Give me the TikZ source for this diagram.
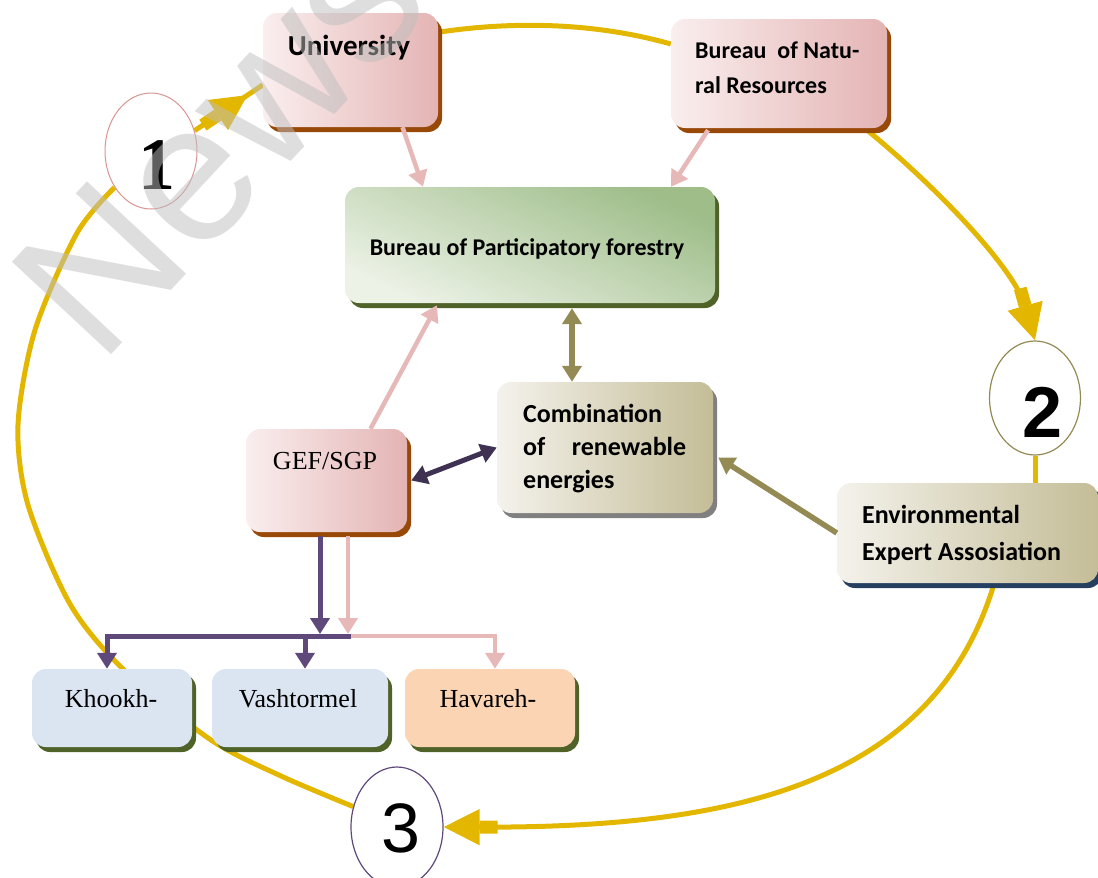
\documentclass[tikz,border=0pt]{standalone}
\usepackage{fontspec}
\newfontfamily\carl{Carlito}
\newfontfamily\tnr{Liberation Serif}
\newfontfamily\ars{Liberation Sans}
\usetikzlibrary{arrows.meta,shadows,decorations.markings,calc,shapes.geometric}
\pgfdeclarelayer{bg}
\pgfsetlayers{bg,main}
\definecolor{ylw}{RGB}{227,183,0}
\definecolor{pinkL}{RGB}{250,238,238}
\definecolor{pinkR}{RGB}{228,180,180}
\definecolor{brn}{RGB}{152,72,7}
\definecolor{grnD}{RGB}{158,189,137}
\definecolor{grnL}{RGB}{236,242,230}
\definecolor{olv}{RGB}{79,98,40}
\definecolor{tanL}{RGB}{244,242,236}
\definecolor{tanR}{RGB}{196,189,151}
\definecolor{gry}{RGB}{128,128,128}
\definecolor{navy}{RGB}{36,63,96}
\definecolor{lblue}{RGB}{219,229,241}
\definecolor{peach}{RGB}{251,212,180}
\definecolor{arPink}{RGB}{230,185,184}
\definecolor{arOlive}{RGB}{148,138,84}
\definecolor{purp}{RGB}{95,73,122}
\definecolor{dpurp}{RGB}{63,49,82}
\definecolor{cA}{RGB}{217,149,148}
\definecolor{wm}{RGB}{190,190,190}
\tikzset{
  Tsm/.tip={Triangle[length=16pt 0 0, width=19pt 0 0]},
  Tbg/.tip={Rectangle[length=18pt 0 0, width=13pt 0 0] Triangle[length=36pt 0 0, width=35pt 0 0]},
  bx/.style={rounded corners=14pt, inner sep=0pt, draw=none},
  shd/.style={drop shadow={shadow xshift=4pt, shadow yshift=-5pt, fill=#1, opacity=1}},
  pinkbox/.style={bx, shd=brn, left color=pinkL, right color=pinkR},
  greenbox/.style={bx, shd=olv, top color=grnD, bottom color=grnL, shading angle=-25},
  tanbox/.style={bx, shd=#1, left color=tanL, right color=tanR},
  bluebox/.style={bx, shd=olv, fill=lblue},
  peachbox/.style={bx, shd=olv, fill=peach},
  cb/.style={inner sep=0pt, font=\carl\bfseries\fontsize{#1}{#1}\selectfont},
  tr/.style={inner sep=0pt, font=\tnr\fontsize{26}{26}\selectfont, anchor=base},
  yl/.style={draw=ylw, line width=5pt},
  pk/.style={draw=arPink, line width=4.5pt},
  ol/.style={draw=arOlive, line width=5.5pt},
  pu/.style={draw=purp, line width=5pt},
  dp/.style={draw=dpurp, line width=5pt},
  circ/.style={ellipse, fill=white, inner sep=0pt, line width=1.2pt}
}
\begin{document}
\begin{tikzpicture}[x=1pt,y=-1pt]
\useasboundingbox (0,0) rectangle (1098,878);
% boxes
\node[pinkbox, minimum width=175pt, minimum height=114pt] (univ) at (350.5,70) {};
\node[pinkbox, minimum width=216pt, minimum height=109pt] (bnr) at (779,73.5) {};
\node[greenbox, minimum width=370pt, minimum height=116pt] (bpf) at (530,245) {};
\node[tanbox=gry, minimum width=216pt, minimum height=131pt] (comb) at (605,447.5) {};
\node[pinkbox, minimum width=161pt, minimum height=103pt] (gef) at (326.5,480.5) {};
\node[tanbox=navy, minimum width=261pt, minimum height=100pt] (env) at (967.5,533) {};
\node[bluebox, minimum width=160pt, minimum height=78pt] (kh) at (112,708) {};
\node[bluebox, minimum width=176pt, minimum height=78pt] (va) at (300,708) {};
\node[peachbox, minimum width=170pt, minimum height=78pt] (ha) at (490,708) {};
% circles
\node[circ, draw=cA, line width=1pt, minimum width=92pt, minimum height=116pt] (c1) at (151,151) {};
\node[circ, draw=arOlive, minimum width=91pt, minimum height=114pt] (c2) at (1035,398) {};
\node[circ, draw=purp, minimum width=92pt, minimum height=120pt] (c3) at (397,827) {};
\node[inner sep=0pt, text=black, font=\tnr\bfseries\fontsize{74}{74}\selectfont] (n1) at (157,165) {1};
\node[inner sep=0pt, font=\ars\bfseries\fontsize{72}{72}\selectfont] (n2) at (1043,412) {2};
\node[inner sep=0pt, font=\ars\fontsize{70}{70}\selectfont] (n3) at (401,828) {3};
% texts
\node[cb=29, anchor=base] (tU) at (349,55) {University};
\node[cb=24, anchor=base west] (tB1) at (695,58) {Bureau\ \ of Natu-};
\node[cb=24, anchor=base west] (tB2) at (695,93) {ral Resources};
\node[cb=24, anchor=base] (tP) at (527,255) {Bureau of Participatory forestry};
\node[cb=26, anchor=base west] (tC1) at (523,422) {Combination};
\node[cb=26, anchor=base west] (tC2) at (523,455) {\makebox[163pt][s]{of renewable}};
\node[cb=26, anchor=base west] (tC3) at (523,488) {energies};
\node[cb=26, anchor=base west] (tE1) at (862,523) {Environmental};
\node[cb=26, anchor=base west] (tE2) at (862,560) {Expert Assosiation};
\node[tr] (tG) at (325,469) {GEF/SGP};
\node[tr] (tK) at (111,707) {Khookh-};
\node[tr] (tV) at (298,707) {Vashtormel};
\node[tr] (tH) at (488,707) {Havareh-};
% yellow cycle
\begin{pgfonlayer}{bg}
\draw[yl, postaction={decorate}, decoration={markings, mark=at position 0.78 with {\arrow{Tbg}}}]
  (c1.25) -- ($(univ.north west)!0.63!(univ.south west)$);
\draw[yl] ($(univ.north east)!0.17!(univ.south east)$) .. controls (520,20) and (600,24) .. ($(bnr.north west)!0.23!(bnr.south west)$);
\draw[yl, -{Tbg}] ($(bnr.south east)+(-20,2)$) .. controls (940,190) and (1015,270) .. (c2.north);
\draw[yl] (c2.south) -- (c2.south |- env.north);
\draw[yl, -{Tbg}] ($(env.south)+(25.5,4)$) .. controls (930,790) and (720,828) .. (c3.east);
\draw[yl] plot[smooth] coordinates {(c3.155) (281,776) (211,740) (123,669) (70,604) (28,505) (18,425) (35,330) (77,233) (c1.225)};
\end{pgfonlayer}
% connectors
\draw[pk, -{Tsm}] ($(univ.south)+(52,0)$) -- ($(bpf.north)+(-107,0)$);
\draw[pk, -{Tsm}] ($(bnr.south)+(-71,2)$) -- ($(bpf.north)+(141,0)$);
\draw[pk, -{Tsm}] ($(gef.north)+(44,0)$) -- ($(bpf.south)+(-93,2)$);
\draw[ol, {Tsm}-{Tsm}] ($(bpf.south)+(42,5)$) -- ($(comb.north)+(-33,0)$);
\draw[dp, {Tsm}-{Tsm}] ($(gef.east)+(4,0)$) -- (comb.west);
\draw[ol, -{Tsm}] (env.west) -- ($(comb.east)+(5,10)$);
\coordinate (pv) at (320,634);
\coordinate (kv) at (107,636);
\coordinate (mid) at (351,636);
\coordinate (vv) at (305,636);
\coordinate (pkv) at (348,634);
\coordinate (hv) at (495,636);
\draw[pu, -{Tsm}] ($(gef.south)+(-6.5,4)$) -- (pv);
\draw[pk, -{Tsm}] ($(gef.south)+(21.5,4)$) -- (pkv);
\draw[pk, -{Tsm}] (mid) -- (hv) -- (ha.north -| hv);
\draw[pu, -{Tsm}] (mid) -- (kv) -- (kh.north -| kv);
\draw[pu, -{Tsm}] (vv) -- (va.north -| vv);
% watermark
\node[rotate=47, anchor=base west, inner sep=0pt, text=wm, opacity=0.5, font=\ars\fontsize{197}{197}\selectfont] (wmk) at (100,367) {News};
\end{tikzpicture}
\end{document}
